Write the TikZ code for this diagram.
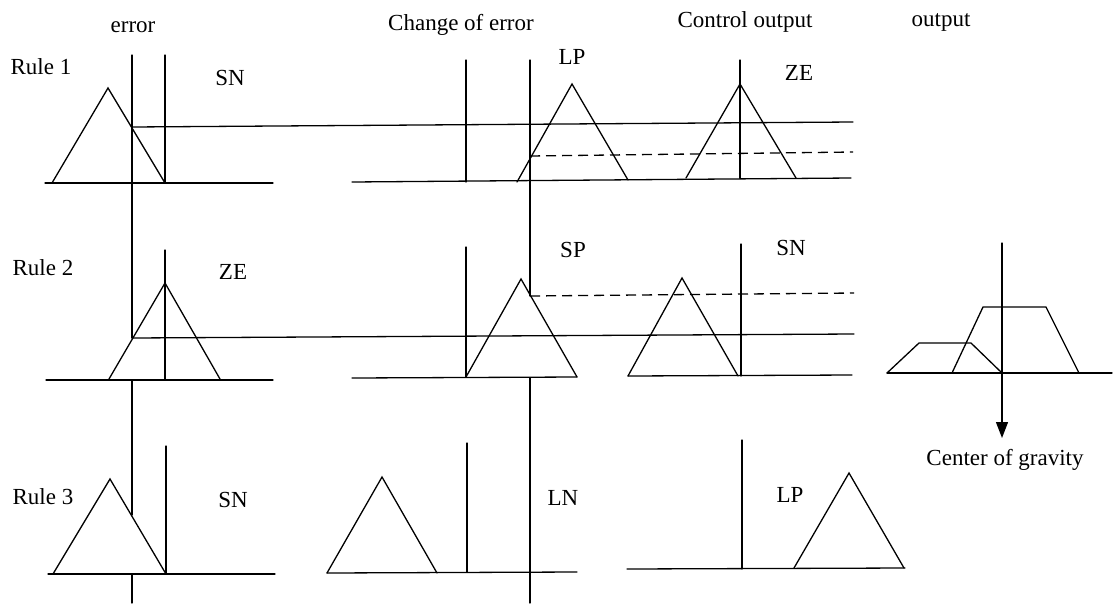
\documentclass[tikz,border=0pt]{standalone}
\usepackage{fontspec}
\setmainfont{Liberation Serif}
\usetikzlibrary{arrows.meta}
\begin{document}
\begin{tikzpicture}[x=1pt,y=-1pt,
  ln/.style={line width=1.3pt,line cap=round,line join=miter},
  dsh/.style={ln,line cap=butt,dash pattern=on 10pt off 6pt},
  lbl/.style={font=\fontsize{23}{26}\selectfont,inner sep=0pt}]
\useasboundingbox (0,0) rectangle (1119,603);
% column headings
\node[lbl] (h1) at (133,27) {error};
\node[lbl] (h2) at (461,25) {Change of error};
\node[lbl] (h3) at (745,22) {Control output};
\node[lbl] (h4) at (941,22) {output};
% row labels and set names
\node[lbl] (r1) at (41,67) {Rule 1};
\node[lbl] (r1a) at (230,78) {SN};
\node[lbl] (r1b) at (572,57) {LP};
\node[lbl] (r1c) at (799,73) {ZE};
\node[lbl] (r2) at (43,268) {Rule 2};
\node[lbl] (r2a) at (233,272) {ZE};
\node[lbl] (r2b) at (573,250) {SP};
\node[lbl] (r2c) at (791,248) {SN};
\node[lbl] (r3) at (43,497) {Rule 3};
\node[lbl] (r3a) at (233,500) {SN};
\node[lbl] (r3b) at (563,498) {LN};
\node[lbl] (r3c) at (790,495) {LP};
\node[lbl] (cog) at (1005,460) {Center of gravity};
% long input verticals
\draw[ln] (132,55) -- (132,338);
\draw[ln] (132,380) -- (132,515);
\draw[ln] (132,574) -- (132,603);
\draw[ln] (530,60) -- (530,296);
\draw[ln] (530,378) -- (530,603);
% set-centre verticals
\draw[ln] (165,55) -- (165,183);
\draw[ln] (466,60) -- (466,182);
\draw[ln] (740,60) -- (740,178);
\draw[ln] (165,250) -- (165,380);
\draw[ln] (466,247) -- (466,377);
\draw[ln] (741,244) -- (741,376);
\draw[ln] (166,446) -- (166,574);
\draw[ln] (467,443) -- (467,572);
\draw[ln] (742,440) -- (742,569);
% baselines
\draw[ln] (45,183) -- (273,183);
\draw[ln] (352,182) -- (851,178);
\draw[ln] (46,380) -- (273,380);
\draw[ln] (352,378) -- (577,377);
\draw[ln] (628,376) -- (852,375);
\draw[ln] (48,574) -- (275,574);
\draw[ln] (327,573) -- (577,572);
\draw[ln] (627,569) -- (905,568);
% membership levels
\draw[ln] (132,127) -- (853,122);
\draw[dsh] (530,156) -- (853,152);
\draw[ln] (132,338) -- (854,334);
\draw[dsh] (530,296) -- (854,293);
% triangles
\draw[ln] (52,183) -- (108,88) -- (165,183);
\draw[ln] (517,182) -- (572,84) -- (628,180);
\draw[ln] (686,178) -- (740,84) -- (796,178);
\draw[ln] (109,379) -- (165,283) -- (220,379);
\draw[ln] (466,377) -- (521,279) -- (577,377);
\draw[ln] (628,376) -- (682,278) -- (738,376);
\draw[ln] (53,574) -- (110,479) -- (166,574);
\draw[ln] (327,573) -- (382,477) -- (437,573);
\draw[ln] (794,568) -- (849,473) -- (904,568);
% output aggregation
\draw[ln] (887,373) -- (1112,373);
\draw[ln] (887,373) -- (919,343) -- (971,343) -- (1002,373);
\draw[ln] (952,373) -- (983,307) -- (1046,307) -- (1079,373);
\draw[ln] (1002,243) -- (1002,373);
\coordinate (cg) at (1002,373);
\coordinate (cgtip) at (1002,438);
\draw[ln,-{Triangle[length=16pt,width=12pt]}] (cg) -- (cgtip);
\end{tikzpicture}
\end{document}
